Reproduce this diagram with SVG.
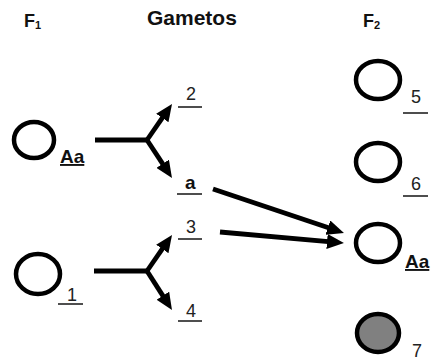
<svg xmlns="http://www.w3.org/2000/svg" width="437" height="363" viewBox="0 0 437 363">
<style>
.hdr{font-family:"Liberation Sans",Arial,sans-serif;font-weight:bold;fill:#111}
.lbl{font-family:"Liberation Sans",Arial,sans-serif;font-size:18px;fill:#222}
.bl{font-family:"Liberation Sans",Arial,sans-serif;font-size:19px;font-weight:bold;fill:#111}
.ul{stroke:#222;stroke-width:1.6}
.cell{fill:#fff;stroke:#000;stroke-width:4.5}
.conn{fill:none;stroke:#000;stroke-width:4.8;marker-end:url(#ah)}
.bar{fill:none;stroke:#000;stroke-width:4.8}
</style>
<defs>
<marker id="ah" markerUnits="userSpaceOnUse" markerWidth="17" markerHeight="15" refX="7" refY="7.5" orient="auto">
<path d="M0,0 L17,7.5 L0,15 z" fill="#000"/>
</marker>
</defs>
<rect width="437" height="363" fill="#fff"/>
<g id="headers">
<text class="hdr" x="24" y="27" font-size="18">F<tspan font-size="11" dy="2">1</tspan></text>
<text class="hdr" x="147" y="25" font-size="21">Gametos</text>
<text class="hdr" x="363" y="27" font-size="18">F<tspan font-size="11" dy="2">2</tspan></text>
</g>
<g id="connectors">
<path class="bar" d="M95,140 H147"/>
<path class="conn" d="M147,140 L166.3,112.2"/>
<path class="conn" d="M147,140 L166.5,169.6"/>
<path class="bar" d="M94,271 H147"/>
<path class="conn" d="M147,271 L166.3,243.2"/>
<path class="conn" d="M147,271 L166.6,301.6"/>
<path class="conn" d="M213,189 L334.5,229.8"/>
<path class="conn" d="M220,232 L334,242.1"/>
</g>
<g id="f1-aa">
<ellipse class="cell" cx="34" cy="140" rx="20" ry="18"/>
<text class="bl" x="60" y="163" text-decoration="underline">Aa</text>
</g>
<g id="f1-1">
<ellipse class="cell" cx="38" cy="274" rx="22" ry="20"/>
<text class="lbl" x="67" y="301">1</text>
<line class="ul" x1="58" y1="304" x2="83" y2="304"/>
</g>
<g id="g-2">
<text class="lbl" x="186" y="100">2</text>
<line class="ul" x1="178" y1="107" x2="202" y2="107"/>
</g>
<g id="g-a">
<text class="bl" x="185" y="189">a</text>
<line class="ul" x1="177" y1="194" x2="202" y2="194"/>
</g>
<g id="g-3">
<text class="lbl" x="186" y="233">3</text>
<line class="ul" x1="178" y1="239" x2="202" y2="239"/>
</g>
<g id="g-4">
<text class="lbl" x="186" y="317">4</text>
<line class="ul" x1="178" y1="321" x2="202" y2="321"/>
</g>
<g id="f2-5">
<ellipse class="cell" cx="378" cy="80" rx="22" ry="19"/>
<text class="lbl" x="411" y="103">5</text>
<line class="ul" x1="403" y1="113" x2="428" y2="113"/>
</g>
<g id="f2-6">
<ellipse class="cell" cx="378" cy="162" rx="22" ry="19"/>
<text class="lbl" x="411" y="190">6</text>
<line class="ul" x1="403" y1="196" x2="428" y2="196"/>
</g>
<g id="f2-aa">
<ellipse class="cell" cx="378" cy="243" rx="22" ry="19"/>
<text class="bl" x="405" y="268" text-decoration="underline">Aa</text>
</g>
<g id="f2-7">
<ellipse class="cell" cx="378" cy="333" rx="21" ry="19" style="fill:#808080"/>
<text class="lbl" x="412" y="357">7</text>
</g>
</svg>
